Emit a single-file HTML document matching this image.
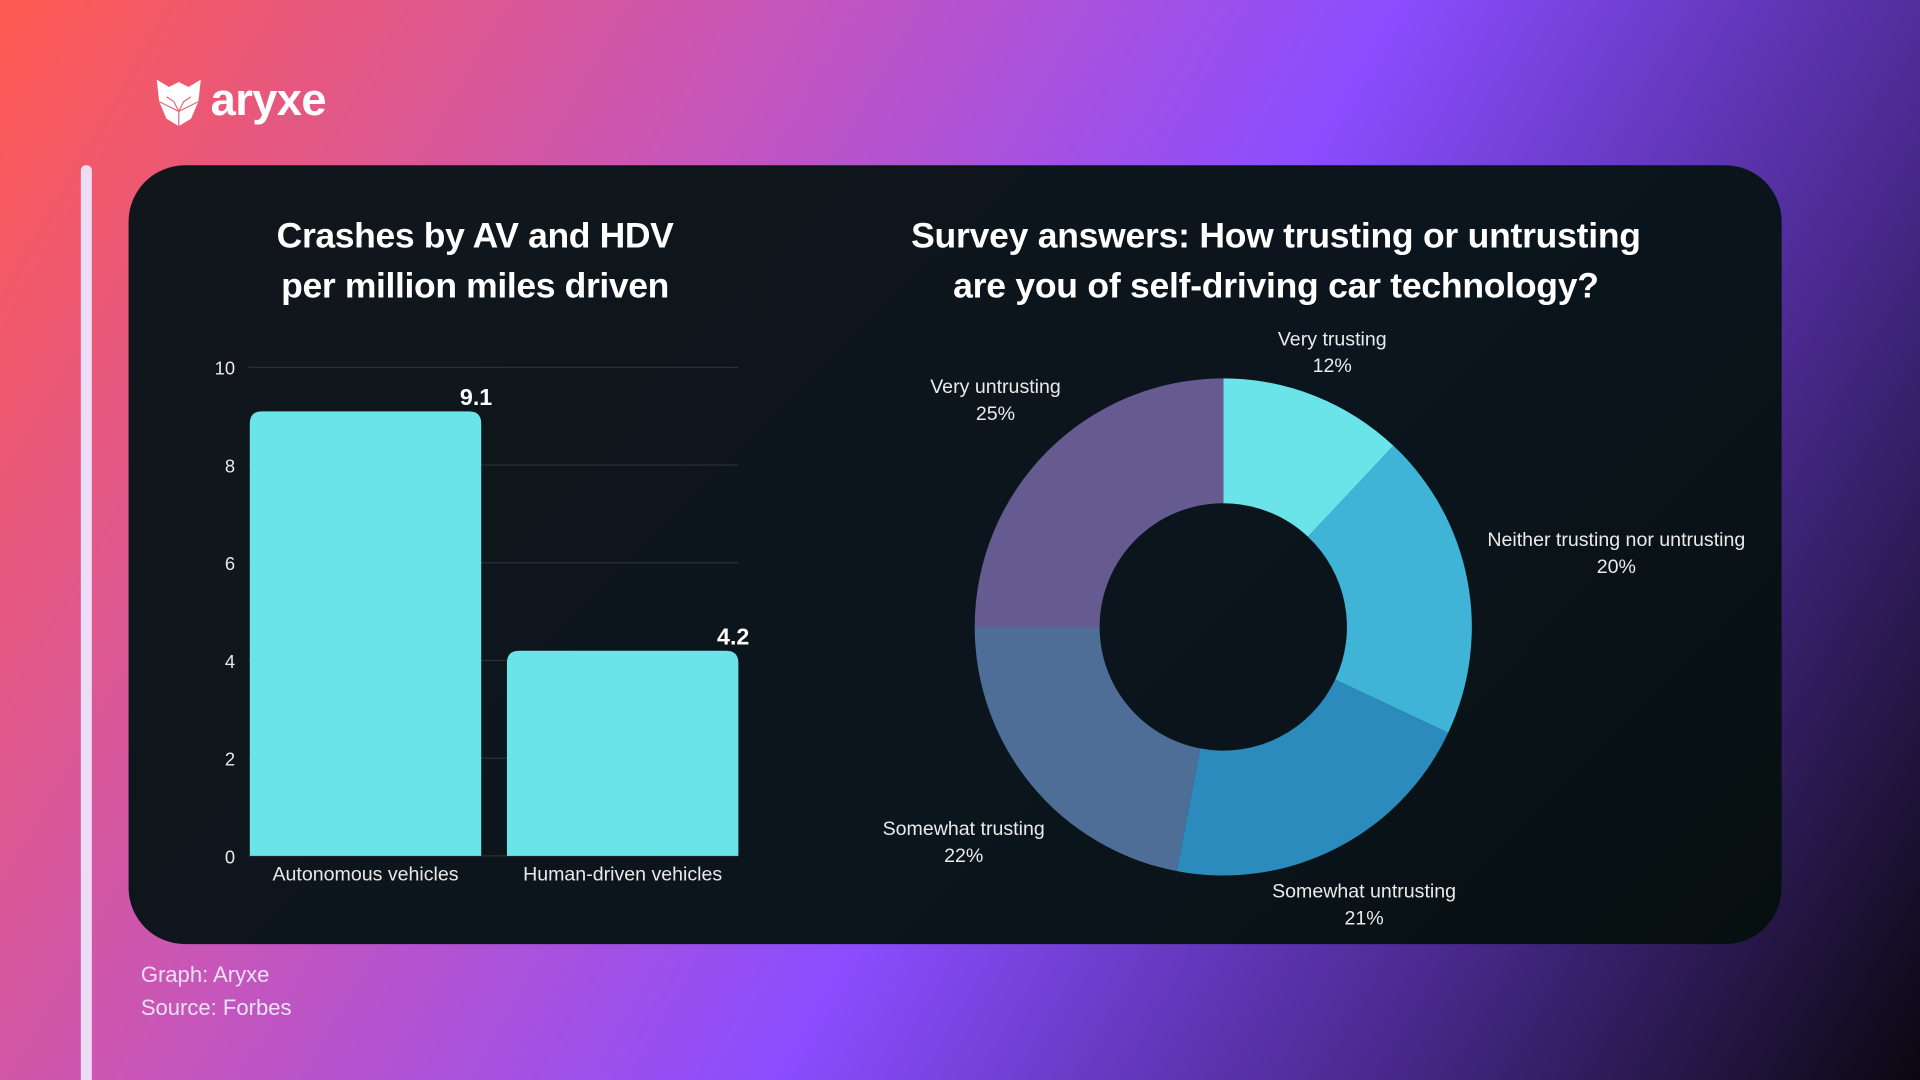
<!DOCTYPE html>
<html><head><meta charset="utf-8">
<style>
html,body{margin:0;padding:0;width:1920px;height:1080px;overflow:hidden;background:#0a0810;}
#wrap{position:absolute;left:0;top:0;width:1568px;height:882px;transform:scale(1.22449);transform-origin:0 0;overflow:hidden;font-family:"Liberation Sans",sans-serif;}
#bg{position:absolute;left:0;top:0;width:1568px;height:882px;background:linear-gradient(120deg,#ff5a50 0%,#c856b8 30%,#8b4dff 55%,#4a2a90 78%,#0a0810 100%);}
.abs{position:absolute;}
</style></head><body>
<div id="wrap">
  <div id="bg"></div>
  <div class="abs" style="left:126px;top:60px;height:44px;display:flex;align-items:center;">
    <svg width="40" height="42" viewBox="0 0 40 42"><path d="M2 4 L12 10 L20 6 L28 10 L38 4 L36 22 L30 36 L20 42 L10 36 L4 22 Z" fill="#fff"/><path d="M10 18 L16 22 L20 30 L24 22 L30 18 M20 30 L20 42 M4 22 L20 30 L36 22" stroke="#e9667e" stroke-width="1" fill="none"/></svg>
    <span style="color:#fff;font-weight:bold;font-size:37px;margin-left:6px;letter-spacing:-0.5px;">aryxe</span>
  </div>
  <div class="abs" style="left:66px;top:135px;width:9px;height:760px;background:#ecdcf6;border-radius:4px;"></div>
  <div class="abs" style="left:105px;top:135px;width:1350px;height:636px;border-radius:46px;background:linear-gradient(135deg,#11161b,#0b151d 60%,#071010);"></div>
  <div class="abs" style="left:168px;top:173px;width:440px;text-align:center;color:#fff;font-weight:bold;font-size:29px;line-height:41px;letter-spacing:-0.3px;">Crashes by AV and HDV<br>per million miles driven</div>
  <div class="abs" style="left:672px;top:173px;width:740px;text-align:center;color:#fff;font-weight:bold;font-size:29px;line-height:41px;letter-spacing:-0.2px;">Survey answers: How trusting or untrusting<br>are you of self-driving car technology?</div>
  <svg class="abs" id="charts" style="left:0;top:0" width="1568" height="882"></svg>
  <div class="abs" style="left:115px;top:783px;color:#ece0f7;font-size:18px;line-height:27px;">Graph: Aryxe<br>Source: Forbes</div>
</div>
<script>
const barCategories=["Autonomous vehicles","Human-driven vehicles"];
const barValues=[9.1,4.2];
const yTicks=[0,2,4,6,8,10];
const sliceLabels=["Very trusting","Neither trusting nor untrusting","Somewhat untrusting","Somewhat trusting","Very untrusting"];
const sliceValues=[12,20,21,22,25];
const sliceColors=["#6ae4e8","#40b4d6","#2b8bbd","#4e6e98","#655b90"];

const NS="http://www.w3.org/2000/svg";
const svg=document.getElementById('charts');
function mk(tag,attrs,text){const e=document.createElementNS(NS,tag);for(const k in attrs)e.setAttribute(k,attrs[k]);if(text!==undefined)e.textContent=text;svg.appendChild(e);return e;}
const y0=699,y1=300,x0=203,x1=603,yMax=10;
const yS=v=>y0-(y0-y1)*v/yMax;
const band=(x1-x0)/barCategories.length;
yTicks.forEach(t=>{
  const g=mk('line',{x1:x0,x2:x1,y1:yS(t),y2:yS(t),stroke:'#2a3036','stroke-width':1});
  
  
  const l=mk('text',{x:192,y:yS(t)+6,'text-anchor':'end',fill:'#e8e8e8','font-size':15,'font-family':'Liberation Sans'},t);
  
  
});
barCategories.forEach((c,i)=>{
  const bx=x0+i*band+1+(i?10:0), bw=band-11, top=yS(barValues[i]), r=10;
  const p=mk('path',{d:`M${bx} ${y0} V${top+r} Q${bx} ${top} ${bx+r} ${top} H${bx+bw-r} Q${bx+bw} ${top} ${bx+bw} ${top+r} V${y0} Z`,fill:'#6ae4e8'});
  
  
  const v=mk('text',{x:bx+bw+9,y:top-5,'text-anchor':'end',fill:'#fff','font-size':19,'font-weight':'bold','font-family':'Liberation Sans'},barValues[i].toFixed(1));
  
  
  const cl=mk('text',{x:bx+bw/2,y:719,'text-anchor':'middle',fill:'#e8e8e8','font-size':16,'font-family':'Liberation Sans'},c);
  
  
});
const cx=999,cy=512,R=203,r0=101;
const total=sliceValues.reduce((a,b)=>a+b,0);
let acc=0;
const labelPos=[[1088,282],[1320,446],[1114,733],[787,682],[813,321]];
sliceValues.forEach((v,i)=>{
  const a0=acc/total*2*Math.PI, a1=(acc+v)/total*2*Math.PI; acc+=v;
  const P=(rad,a)=>[cx+rad*Math.sin(a),cy-rad*Math.cos(a)];
  const [ax,ay]=P(R,a0),[bx,by]=P(R,a1),[cx2,cy2]=P(r0,a1),[dx,dy]=P(r0,a0);
  const lg=(a1-a0)>Math.PI?1:0;
  const s=mk('path',{d:`M${ax} ${ay} A${R} ${R} 0 ${lg} 1 ${bx} ${by} L${cx2} ${cy2} A${r0} ${r0} 0 ${lg} 0 ${dx} ${dy} Z`,fill:sliceColors[i]});
  
  
  const [lx,ly]=labelPos[i];
  const t1=mk('text',{x:lx,y:ly,'text-anchor':'middle',fill:'#eaeaea','font-size':16,'font-family':'Liberation Sans'},sliceLabels[i]);
  
  
  const t2=mk('text',{x:lx,y:ly+22,'text-anchor':'middle',fill:'#eaeaea','font-size':16,'font-family':'Liberation Sans'},v+'%');
  
  
});
</script>
</body></html>
